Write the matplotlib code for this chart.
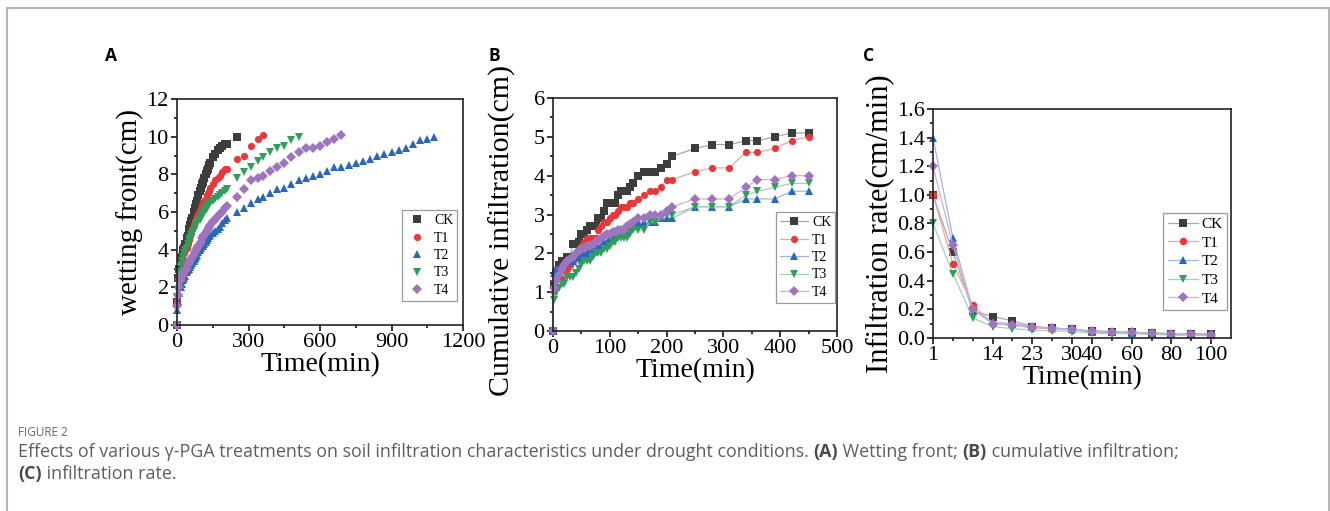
import matplotlib
matplotlib.use('Agg')
import matplotlib.pyplot as plt
from matplotlib.patches import Rectangle
from matplotlib.ticker import MultipleLocator, FixedLocator

plt.rcParams['font.family'] = 'serif'
plt.rcParams['font.serif'] = ['Liberation Serif', 'DejaVu Serif']

# ------------------------------------------------------------
# data
# ------------------------------------------------------------
labels = ['CK', 'T1', 'T2', 'T3', 'T4']
colors = ['#3d3d3d', '#e8393a', '#2a67b8', '#2f9e5c', '#9d74bd']
lines_light = ['#a8a8a8', '#f2a39c', '#9fb6e0', '#9fd3b2', '#c9b1df']
markers = ['s', 'o', '^', 'v', 'D']

t_dense = [0, 1, 5, 10, 15, 20, 25, 30, 35, 40, 45, 50, 55, 60, 65, 70, 75, 80,
           85, 90, 95, 100, 105, 110, 115, 120, 125, 130, 135, 140,
           150, 160, 170, 180, 190, 200, 210]
t_late_a = [250, 280, 310, 340, 360, 390, 420, 450, 480, 510, 540, 570, 600,
            630, 660, 690, 720, 750, 780, 810, 840, 870, 900, 930, 960, 990,
            1020, 1050, 1080]
t_late_b = [250, 280, 310, 340, 360, 390, 420, 450]

# A: wetting front (cm)
wf_ck = [0.0, 1.2, 2.5, 3.0, 3.5, 3.6, 4.0, 4.1, 4.3, 4.6, 4.7, 5.1, 5.3, 5.5, 5.7,
         6.0, 6.2, 6.4, 6.6, 6.9, 7.1, 7.3, 7.5, 7.6, 7.8, 8.0, 8.2, 8.3, 8.5, 8.6,
         8.9, 9.1, 9.3, 9.4, 9.5, 9.6, 9.6,
         10.0]
wf_t1 = [0.0, 1.3, 2.0, 2.6, 3.0, 3.3, 3.5, 3.8, 4.0, 4.1, 4.3, 4.5, 4.7, 4.9, 5.1,
         5.3, 5.5, 5.6, 5.8, 5.9, 6.1, 6.2, 6.4, 6.5, 6.6, 6.7, 6.9, 7.0, 7.1, 7.3,
         7.5, 7.7, 7.8, 7.9, 8.1, 8.3, 8.3,
         8.8, 9.0, 9.5, 9.9, 10.1]
wf_t2 = [0.0, 0.8, 1.3, 1.7, 2.0, 2.2, 2.4, 2.5, 2.6, 2.8, 2.9, 3.0, 3.1, 3.2, 3.3,
         3.4, 3.5, 3.6, 3.7, 3.9, 4.0, 4.1, 4.2, 4.2, 4.3, 4.4, 4.5, 4.6, 4.7, 4.8,
         4.9, 5.0, 5.1, 5.2, 5.4, 5.6, 5.7,
         6.0, 6.2, 6.5, 6.7, 6.8, 7.0, 7.2, 7.3, 7.5, 7.7, 7.8, 7.9, 8.0, 8.2, 8.4,
         8.4, 8.5, 8.6, 8.7, 8.8, 9.0, 9.1, 9.2, 9.3, 9.4, 9.6, 9.8, 9.9, 10.0]
wf_t3 = [0.0, 1.5, 2.3, 2.8, 3.2, 3.4, 3.6, 3.8, 4.0, 4.1, 4.3, 4.5, 4.6, 4.8, 4.9,
         5.0, 5.2, 5.3, 5.4, 5.5, 5.6, 5.7, 5.8, 5.9, 6.0, 6.1, 6.2, 6.3, 6.4, 6.5,
         6.6, 6.7, 6.8, 6.9, 7.0, 7.1, 7.2,
         7.8, 8.1, 8.4, 8.7, 8.9, 9.2, 9.4, 9.5, 9.8, 10.0]
wf_t4 = [0.0, 1.0, 1.6, 2.0, 2.4, 2.6, 2.7, 2.8, 2.9, 3.0, 3.2, 3.3, 3.4, 3.5, 3.6,
         3.7, 3.9, 4.0, 4.1, 4.2, 4.3, 4.4, 4.6, 4.7, 4.8, 4.9, 5.0, 5.1, 5.2, 5.3,
         5.5, 5.6, 5.8, 5.9, 6.0, 6.2, 6.3,
         6.8, 7.2, 7.7, 7.8, 7.9, 8.2, 8.4, 8.6, 8.9, 9.2, 9.4, 9.4, 9.5, 9.7, 9.9, 10.1]

# B: cumulative infiltration (cm)
ci_ck = [0.0, 1.2, 1.5, 1.7, 1.8, 1.8, 1.9, 1.9, 2.25, 2.25, 2.3, 2.5, 2.5, 2.6, 2.7,
         2.7, 2.7, 2.9, 2.9, 3.1, 3.3, 3.3, 3.3, 3.3, 3.5, 3.6, 3.6, 3.6, 3.7, 3.8,
         4.0, 4.1, 4.1, 4.1, 4.2, 4.3, 4.5,
         4.7, 4.8, 4.8, 4.9, 4.9, 5.0, 5.1, 5.1]
ci_t1 = [0.0, 1.0, 1.6, 1.4, 1.35, 1.6, 1.6, 1.7, 1.8, 2.0, 2.1, 2.2, 2.3, 2.4, 2.4,
         2.4, 2.4, 2.6, 2.7, 2.8, 2.8, 2.9, 3.0, 3.0, 3.1, 3.2, 3.2, 3.2, 3.3, 3.3,
         3.4, 3.5, 3.6, 3.6, 3.7, 3.9, 3.9,
         4.1, 4.2, 4.2, 4.6, 4.6, 4.7, 4.9, 5.0]
ci_t2 = [0.0, 1.5, 1.6, 1.6, 1.7, 1.7, 1.8, 1.8, 1.8, 1.9, 1.9, 2.0, 2.0, 2.0, 2.1,
         2.1, 2.1, 2.2, 2.2, 2.3, 2.3, 2.4, 2.4, 2.5, 2.5, 2.5, 2.5, 2.6, 2.7, 2.7,
         2.8, 2.8, 2.8, 2.8, 2.9, 2.9, 2.9,
         3.2, 3.2, 3.2, 3.4, 3.4, 3.4, 3.6, 3.6]
ci_t3 = [0.0, 0.8, 1.0, 1.1, 1.2, 1.2, 1.4, 1.4, 1.4, 1.5, 1.6, 1.7, 1.8, 1.8, 1.8,
         1.9, 2.0, 2.0, 2.0, 2.1, 2.1, 2.2, 2.3, 2.3, 2.4, 2.4, 2.4, 2.4, 2.5, 2.6,
         2.6, 2.6, 2.8, 2.8, 2.9, 3.0, 3.0,
         3.2, 3.2, 3.2, 3.5, 3.6, 3.7, 3.8, 3.8]
ci_t4 = [0.0, 1.1, 1.3, 1.45, 1.6, 1.7, 1.8, 1.85, 1.9, 2.0, 2.05, 2.1, 2.15, 2.2, 2.2,
         2.25, 2.3, 2.35, 2.4, 2.45, 2.5, 2.5, 2.55, 2.55, 2.6, 2.6, 2.6, 2.7, 2.75, 2.8,
         2.9, 2.9, 3.0, 3.0, 3.0, 3.1, 3.2,
         3.4, 3.4, 3.4, 3.7, 3.9, 3.9, 4.0, 4.0]

# C: infiltration rate (cm/min), plotted against sampling order
rate_times = ['1', '5', '10', '14', '18', '23', '27', '30', '40', '50', '60', '70', '80', '90', '100']
rate_shown = ['1', '14', '23', '30', '40', '60', '80', '100']
ir_ck = [1.0, 0.6, 0.19, 0.15, 0.12, 0.08, 0.07, 0.06, 0.05, 0.045, 0.04, 0.035, 0.03, 0.03, 0.03]
ir_t1 = [1.0, 0.52, 0.23, 0.1, 0.09, 0.07, 0.065, 0.055, 0.05, 0.04, 0.04, 0.035, 0.03, 0.03, 0.025]
ir_t2 = [1.4, 0.7, 0.2, 0.11, 0.1, 0.08, 0.07, 0.06, 0.04, 0.04, 0.035, 0.03, 0.025, 0.025, 0.02]
ir_t3 = [0.8, 0.45, 0.14, 0.08, 0.065, 0.055, 0.05, 0.045, 0.035, 0.03, 0.03, 0.025, 0.02, 0.02, 0.015]
ir_t4 = [1.2, 0.65, 0.2, 0.1, 0.09, 0.075, 0.07, 0.06, 0.05, 0.045, 0.04, 0.035, 0.03, 0.03, 0.02]

caption_1 = [("Effects of various γ-PGA treatments on soil infiltration characteristics under drought conditions. ", 'normal'),
             ("(A)", 'bold'), (" Wetting front; ", 'normal'),
             ("(B)", 'bold'), (" cumulative infiltration;", 'normal')]
caption_2 = [("(C)", 'bold'), (" infiltration rate.", 'normal')]

# ------------------------------------------------------------
# figure
# ------------------------------------------------------------
W, H = 1330, 511
fig = plt.figure(figsize=(W / 100, H / 100), dpi=100)
fig.patches.append(Rectangle((7 / W, -0.1), 1321.5 / W, 1.1 - 8 / H,
                             transform=fig.transFigure, fill=False,
                             edgecolor='#b5b5b5', lw=1.5))


def px_axes(l, t, r, b):
    return fig.add_axes([l / W, 1 - b / H, (r - l) / W, (b - t) / H])


def style(ax):
    for s in ax.spines.values():
        s.set_linewidth(1.2)
        s.set_color('#222222')
    ax.tick_params(which='both', direction='out', labelsize=16, width=1.1,
                   top=False, right=False, pad=2)
    ax.tick_params(which='major', length=4)
    ax.tick_params(which='minor', length=2.5)


def legend(ax, x, y, fs, hl, tp):
    lg = ax.legend(loc='upper left', bbox_to_anchor=(x, y), borderaxespad=0,
                   fontsize=fs, frameon=True, fancybox=False, framealpha=1,
                   handlelength=hl, handletextpad=tp, labelspacing=0.32,
                   borderpad=0.3, edgecolor='#9a9a9a')
    lg.get_frame().set_linewidth(0.9)


# A -----------------------------------------------------------
axA = px_axes(177, 99, 463, 325)
style(axA)
t_a = t_dense + t_late_a
for ys, lab, c, m in zip([wf_ck, wf_t1, wf_t2, wf_t3, wf_t4], labels, colors, markers):
    axA.plot(t_a[:len(ys)], ys, ls='none', marker=m, color=c, ms=5.2 if m != 'D' else 4.6,
             mew=0, label=lab, clip_on=False)
axA.set_xlim(0, 1200)
axA.set_ylim(0, 12)
axA.xaxis.set_major_locator(MultipleLocator(300))
axA.xaxis.set_minor_locator(MultipleLocator(150))
axA.yaxis.set_major_locator(MultipleLocator(2))
axA.yaxis.set_minor_locator(MultipleLocator(1))
axA.set_xlabel('Time(min)', fontsize=20, labelpad=0)
axA.set_ylabel('wetting front(cm)', fontsize=21, labelpad=2)
legend(axA, 0.787, 0.509, 10, 1.6, 0.4)

# B -----------------------------------------------------------
axB = px_axes(553, 98, 837, 331)
style(axB)
t_b = t_dense + t_late_b
for ys, lab, c, lc, m in zip([ci_ck, ci_t1, ci_t2, ci_t3, ci_t4], labels, colors, lines_light, markers):
    axB.plot(t_b, ys, ls='-', lw=0.9, color=lc, marker=m, mfc=c, mec=c,
             ms=5.2 if m != 'D' else 4.6, mew=0, label=lab, clip_on=False)
axB.set_xlim(0, 500)
axB.set_ylim(0, 6)
axB.xaxis.set_major_locator(MultipleLocator(100))
axB.xaxis.set_minor_locator(MultipleLocator(50))
axB.yaxis.set_major_locator(MultipleLocator(1))
axB.yaxis.set_minor_locator(MultipleLocator(0.5))
axB.set_xlabel('Time(min)', fontsize=20, labelpad=0)
axB.set_ylabel('Cumulative infiltration(cm)', fontsize=21.5)
axB.yaxis.set_label_coords(-0.13, 0.43)
legend(axB, 0.785, 0.511, 10, 2.0, 0.3)

# C -----------------------------------------------------------
axC = px_axes(933, 109, 1231, 338)
style(axC)
idx = list(range(len(rate_times)))
for ys, lab, c, lc, m in zip([ir_ck, ir_t1, ir_t2, ir_t3, ir_t4], labels, colors, lines_light, markers):
    axC.plot(idx, ys, ls='-', lw=0.9, color=lc, marker=m, mfc=c, mec=c,
             ms=5.4 if m != 'D' else 4.8, mew=0, label=lab, clip_on=False)
axC.set_xlim(0, len(rate_times))
axC.set_ylim(0, 1.6)
shown_pos = [rate_times.index(s) for s in rate_shown]
axC.xaxis.set_major_locator(FixedLocator(shown_pos))
axC.set_xticklabels(rate_shown)
axC.xaxis.set_minor_locator(FixedLocator([i for i in idx if i not in shown_pos]))
axC.yaxis.set_major_locator(MultipleLocator(0.2))
axC.yaxis.set_minor_locator(MultipleLocator(0.1))
axC.yaxis.set_major_formatter(plt.FormatStrFormatter('%.1f'))
axC.set_xlabel('Time(min)', fontsize=20, labelpad=0)
axC.set_ylabel('Infiltration rate(cm/min)', fontsize=22, labelpad=2)
legend(axC, 0.772, 0.546, 11, 2.0, 0.2)

# panel letters -------------------------------------------------
for lab, x in [('A', 105), ('B', 488), ('C', 863)]:
    fig.text(x / W, 1 - 61 / H, lab, fontsize=12.5, fontweight='bold',
             family='Open Sans', color='black', va='baseline')

# caption ------------------------------------------------------
fig.text(18 / W, 1 - 432 / H, 'FIGURE 2', fontsize=8.5, family='Open Sans',
         color='#666666', va='center')
renderer = fig.canvas.get_renderer()


def put_runs(parts, ypix):
    x = 18
    for s, w in parts:
        t = fig.text(x / W, 1 - ypix / H, s, fontsize=12.9, family='Open Sans',
                     fontweight=w, color='#4a4a4a' if w == 'bold' else '#5e5e5e',
                     va='center')
        x += t.get_window_extent(renderer).width


put_runs(caption_1, 452)
put_runs(caption_2, 474)

fig.savefig('out.png', dpi=100)
